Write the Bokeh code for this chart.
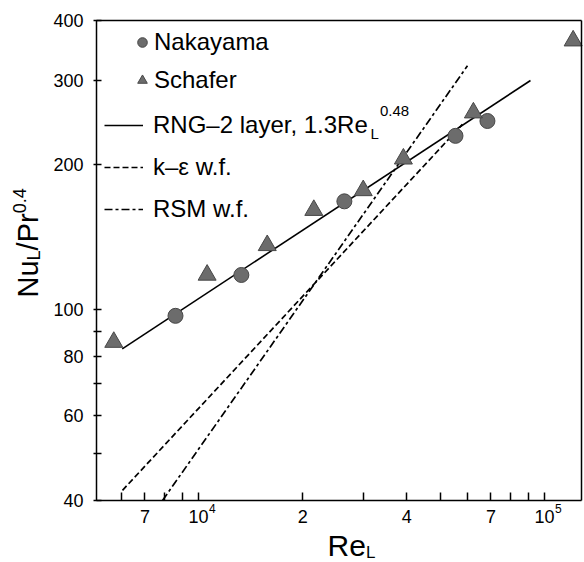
import math
from bokeh.plotting import figure
from bokeh.models import (FixedTicker, Legend, LegendItem, Label, LogAxis, Range1d)
from bokeh.embed import file_html
from bokeh.resources import INLINE

# ---- data ----
nak_re = [8580, 13300, 26400, 55300, 68400]
nak_nu = [97, 118, 168, 230, 247]

sch_re = [5690, 10590, 15800, 21540, 29930, 39100, 62300, 121000]
sch_nu = [85.5, 118, 136, 161, 177, 206, 257, 363]

rng_re = [6020, 91100]
rng_nu = [82.8, 300]

ke_re = [6030, 57900]
ke_nu = [42.0, 243]

rsm_re = [7870, 59900]
rsm_nu = [40.0, 322]

x_major = [7000, 10000, 20000, 40000, 70000, 100000]
x_major_labels = ["7", "10", "2", "4", "7", "10"]
x_major_exponents = ["", "4", "", "", "", "5"]
x_minor = [6000, 8000, 9000, 30000, 50000, 60000, 80000, 90000]

y_major = [40, 60, 80, 100, 200, 300, 400]
y_major_labels = ["40", "60", "80", "100", "200", "300", "400"]
y_minor = [50, 70, 90]

FONT = "Liberation Sans"
GRAY = "#6c6c6c"
EDGE = "#474747"

# ---- layout (pixels of the 584x562 picture) ----
W, H = 584, 562
PX_DEC_X, PX_X_1E4 = 346.0, 198.0      # x: px per decade, px position of 1e4
PX_DEC_Y, PX_Y_40 = 480.0, 500.0       # y: px per decade, px position of 40
BOX_L, BOX_R, BOX_T, BOX_B = 96, 581, 20, 500


def xval(px):
    return 10 ** (4 + (px - PX_X_1E4) / PX_DEC_X)


def xpix(v):
    return PX_X_1E4 + (math.log10(v) - 4) * PX_DEC_X


def yval(py):
    return 40 * 10 ** ((PX_Y_40 - py) / PX_DEC_Y)


p = figure(width=W, height=H, x_axis_type="log", y_axis_type="log",
           x_axis_location=None, y_axis_location=None, title=None,
           x_range=Range1d(xval(0), xval(W)), y_range=Range1d(yval(H), yval(0)),
           output_backend="svg", toolbar_location=None, min_border=0)
p.grid.visible = False
p.outline_line_color = None
p.background_fill_color = "white"
p.border_fill_color = "white"

xb = (xval(BOX_L), xval(BOX_R))
yb = (yval(BOX_B), yval(BOX_T))


def style(ax):
    ax.axis_line_width = 1.5
    ax.axis_line_color = "black"
    ax.major_tick_line_width = 1.5
    ax.minor_tick_line_width = 1.5
    ax.major_tick_line_color = "black"
    ax.minor_tick_line_color = "black"
    ax.major_label_text_font = FONT
    ax.major_label_text_font_size = "18px"
    ax.major_label_text_color = "black"


xaxis = LogAxis(fixed_location=yb[0], bounds=xb,
                ticker=FixedTicker(ticks=x_major, minor_ticks=x_minor),
                major_label_overrides={int(t): l for t, l in zip(x_major, x_major_labels)},
                major_tick_in=8, major_tick_out=0, minor_tick_in=8, minor_tick_out=0,
                major_label_standoff=9)
yaxis = LogAxis(fixed_location=xb[0], bounds=yb,
                ticker=FixedTicker(ticks=y_major, minor_ticks=y_minor),
                major_label_overrides={int(t): l for t, l in zip(y_major, y_major_labels)},
                major_tick_in=5, major_tick_out=3, minor_tick_in=5, minor_tick_out=3,
                major_label_standoff=10)
top = LogAxis(fixed_location=yb[1], bounds=xb, ticker=FixedTicker(ticks=[], minor_ticks=[]),
              major_tick_in=0, major_tick_out=0, minor_tick_in=0, minor_tick_out=0)
right = LogAxis(fixed_location=xb[1], bounds=yb, ticker=FixedTicker(ticks=[], minor_ticks=[]),
                major_tick_in=0, major_tick_out=0, minor_tick_in=0, minor_tick_out=0)
for ax in (xaxis, yaxis, top, right):
    style(ax)
p.add_layout(xaxis, "below")
p.add_layout(yaxis, "left")
p.add_layout(top, "above")
p.add_layout(right, "right")

# lines
r_rng = p.line(rng_re, rng_nu, line_color="black", line_width=1.6)
r_ke = p.line(ke_re, ke_nu, line_color="black", line_width=1.7, line_dash="6 3")
r_rsm = p.line(rsm_re, rsm_nu, line_color="black", line_width=1.7, line_dash="8 3 3 3")

# markers
r_nak = p.scatter(nak_re, nak_nu, marker="circle", size=15,
                  fill_color=GRAY, line_color=EDGE, line_width=1)
r_sch = p.scatter(sch_re, sch_nu, marker="triangle", size=18,
                  fill_color=GRAY, line_color=EDGE, line_width=1)

common = dict(border_line_alpha=0, background_fill_alpha=0, padding=0, margin=0,
              label_text_font=FONT, label_text_font_size="24px",
              label_text_color="black", label_height=30, glyph_height=30)

leg1 = Legend(items=[LegendItem(label="Nakayama", renderers=[r_nak]),
                     LegendItem(label="Schafer", renderers=[r_sch])],
              location=(130, H - 95), glyph_width=24, label_standoff=0,
              spacing=8, **common)
leg2 = Legend(items=[LegendItem(label="RNG\u20132 layer, 1.3Re", renderers=[r_rng]),
                     LegendItem(label="k\u2013\u03b5 w.f.", renderers=[r_ke]),
                     LegendItem(label="RSM w.f.", renderers=[r_rsm])],
              location=(104, H - 224), glyph_width=39, label_standoff=10,
              spacing=12, **common)
p.add_layout(leg1)
p.add_layout(leg2)


def lab(text, px, py, size, angle=0.0):
    # px, py: picture pixels from the top-left corner (middle of the text)
    p.add_layout(Label(x=px, y=H - py, x_units="screen", y_units="screen",
                       text=text, text_font=FONT, text_font_size=f"{size}px",
                       text_color="black", angle=angle,
                       text_baseline="middle", text_align="left"))


# exponents of the 10^n tick labels
for t, e in zip(x_major, x_major_exponents):
    if e:
        lab(e, xpix(t) + 10.5, 508, 12)

# legend sub/superscripts for the RNG entry
lab("L", 370, 132.5, 15)
lab("0.48", 379.5, 110, 15)

# x axis label Re_L
lab("Re", 327, 545, 30)
lab("L", 365.5, 552, 17)

# y axis label Nu_L/Pr^0.4 (rotated)
a = math.pi / 2
big, small = 29, 18
y0 = 297
lab("Nu", 27.5, y0, big, angle=a)
y1 = y0 - 1.278 * big
lab("L", 33, y1, small, angle=a)
y2 = y1 - 0.556 * small
lab("/Pr", 27.5, y2, big, angle=a)
y3 = y2 - 1.278 * big
lab("0.4", 18.5, y3, small, angle=a)

open("out.html", "w").write(file_html(p, INLINE))
